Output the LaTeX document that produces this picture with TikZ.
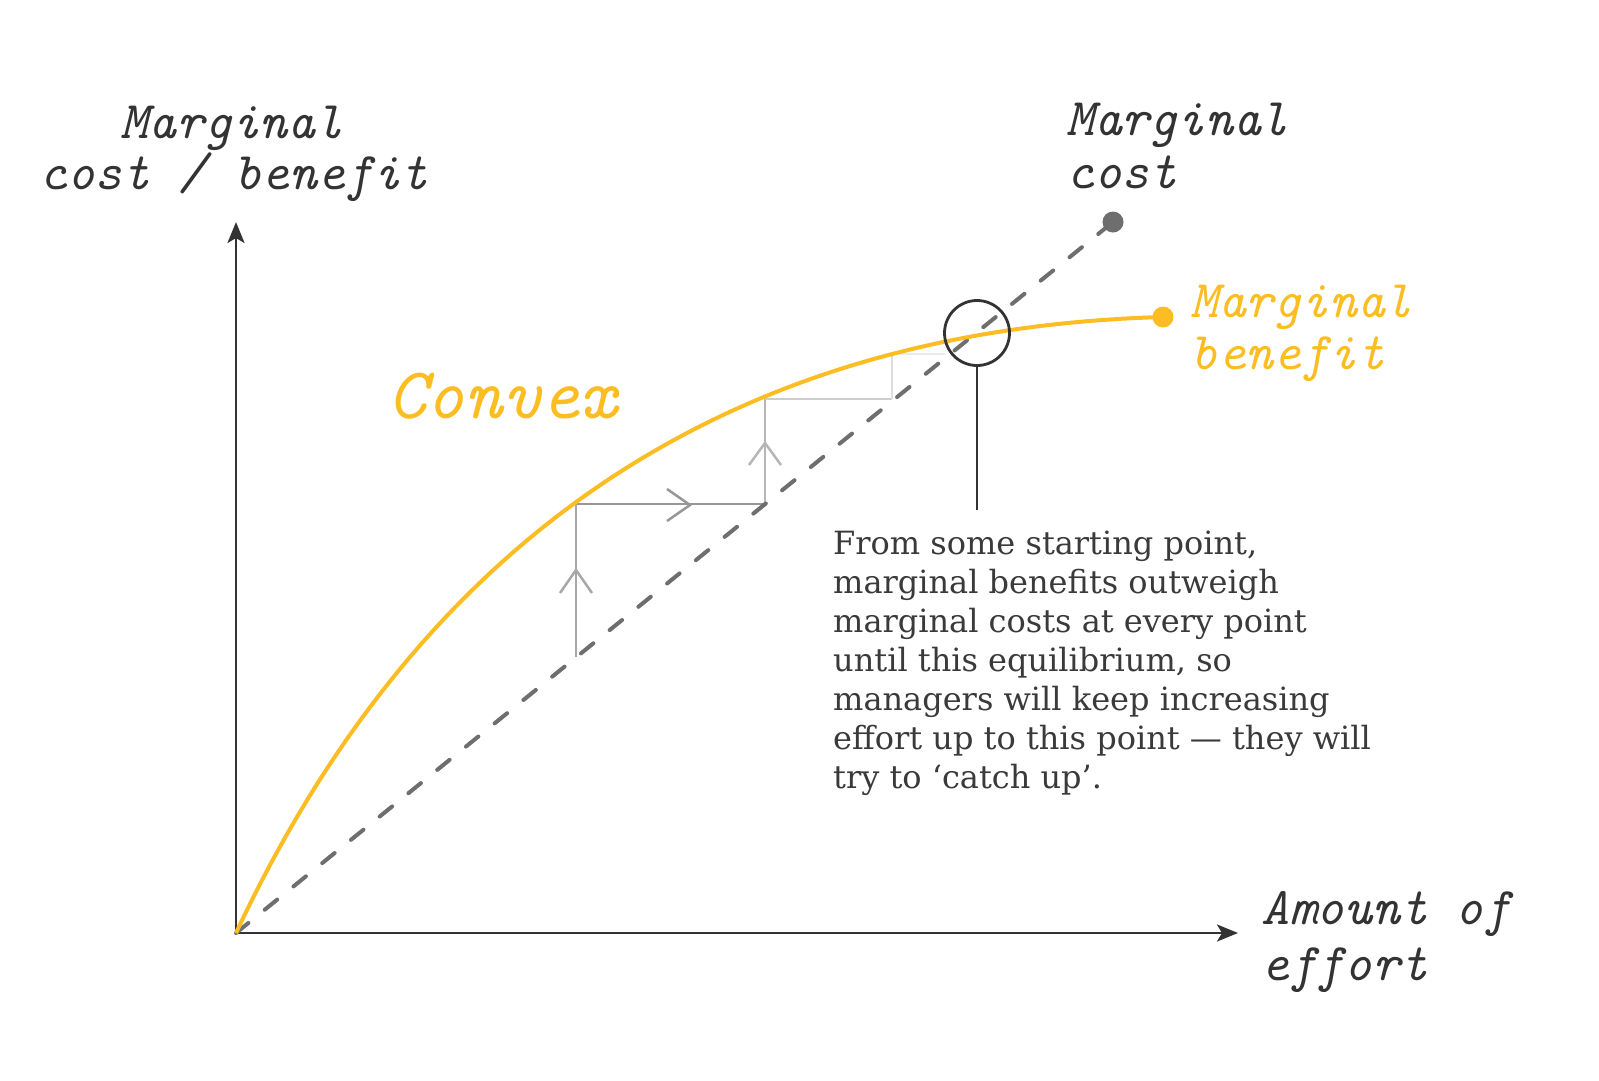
\documentclass[tikz,border=0pt]{standalone}
\usepackage{fontspec}
\newfontfamily\bodyfont{DejaVu Serif}
\usetikzlibrary{arrows.meta}
\definecolor{ink}{HTML}{333333}
\definecolor{bodyink}{HTML}{3A3A3A}
\definecolor{gold}{HTML}{FBBD22}
\definecolor{mcgray}{HTML}{6E6E6E}
\definecolor{stepA}{HTML}{A8A8A8}
\definecolor{stepB}{HTML}{B6B6B6}
\definecolor{stepC}{HTML}{CDCDCD}
\definecolor{stepD}{HTML}{DEDEDE}
\definecolor{stepE}{HTML}{EAEAEA}
\begin{document}
\begin{tikzpicture}[x=1pt,y=-1pt,
  lab/.style={font=\fontsize{53}{55}\selectfont\ttfamily\itshape, text=ink, inner sep=0pt, anchor=base west},
  axisline/.style={draw=ink, line width=2.6pt, -{Stealth[length=21pt,width=17pt,inset=5pt]}},
  stepline/.style={line width=2.5pt, line join=miter},
  dotnode/.style={circle, inner sep=0pt, minimum size=21pt}]
\useasboundingbox (0,0) rectangle (1599,1080);
\fill[white] (0,0) rectangle (1599,1080);

% key points
\coordinate (O) at (236,933);
\coordinate (ytip) at (236,222);
\coordinate (xtip) at (1238,933);
\coordinate (mcend) at (1113,222);
\coordinate (mbend) at (1163,317);
\coordinate (s0) at (576,657);
\coordinate (s1) at (576,504);
\coordinate (s2) at (765,504);
\coordinate (s3) at (765,399);
\coordinate (s4) at (892,399);
\coordinate (s5) at (892,354);
\coordinate (s6) at (945,354);
\coordinate (stemend) at (977,510);

% step path
\draw[stepline, stepA] (s0) -- (s1);
\draw[stepline, stepA!90!black] (s1) -- (s2);
\draw[stepline, stepB] (s2) -- (s3);
\draw[stepline, stepC] (s3) -- (s4);
\draw[stepline, stepD] (s4) -- (s5);
\draw[stepline, stepE] (s5) -- (s6);
% chevrons
\draw[stepline, stepA] (560,593) -- (576,570) -- (592,593);
\draw[stepline, stepA!90!black] (667,489) -- (690,505) -- (667,521);
\draw[stepline, stepB] (749,465) -- (765,443) -- (781,465);

% axes
\draw[axisline] (O) -- (ytip);
\draw[axisline] (O) -- (xtip);

% marginal cost (dashed)
\draw[mcgray, line width=4pt, line cap=round, dash pattern=on 16pt off 21pt] (O) -- (mcend);
\node[dotnode, fill=mcgray] (mcdot) at (mcend) {};

% marginal benefit curve
\draw[gold, line width=4pt] (O) .. controls (422.7,534.3) and (731.7,329) .. (mbend);
\node[dotnode, fill=gold] (mbdot) at (mbend) {};

% equilibrium marker
\node[circle, draw=ink, line width=2.8pt, minimum size=65pt, inner sep=0pt] (eq) at (977,333) {};
\draw[ink, line width=2.6pt] (eq.south) -- (stemend);

% labels
\node[lab, anchor=base] (ylabA) at (232,138) {Marginal};
\node[lab, anchor=base] (ylabB) at (234,189) {cost / benefit};
\node[lab] (mclabA) at (1066,135) {Marginal};
\node[lab] (mclabB) at (1066,188) {cost};
\node[lab, text=gold] (mblabA) at (1190,317) {Marginal};
\node[lab, text=gold] (mblabB) at (1190,369) {benefit};
\node[lab] (xlabA) at (1261,924) {Amount of};
\node[lab] (xlabB) at (1261,980) {effort};
\node[lab, text=gold, font=\fontsize{73}{73}\selectfont\ttfamily\itshape] (convex) at (388,418) {Convex};

% note
\node[anchor=north west, align=left, inner sep=0pt, text=bodyink,
      font=\bodyfont\fontsize{32}{39}\selectfont] (note) at (833,531)
  {From some starting point,\\
   marginal benefits outweigh\\
   marginal costs at every point\\
   until this equilibrium, so\\
   managers will keep increasing\\
   effort up to this point — they will\\
   try to ‘catch up’.};
\end{tikzpicture}
\end{document}
